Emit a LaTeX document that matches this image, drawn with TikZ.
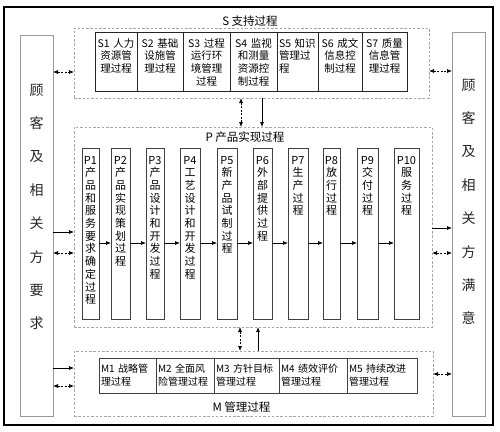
\documentclass[tikz,border=0pt]{standalone}
\usepackage{fontspec}
\setmainfont{Noto Sans CJK SC}
\usetikzlibrary{positioning,arrows.meta}

\begin{document}
\begin{tikzpicture}[x=1pt, y=-1pt, >={Latex[length=5pt,width=4pt]},
    frame/.style={draw=gray!70, dash pattern=on 2.5pt off 1.8pt, line width=0.8pt, inner sep=0pt, outer sep=0pt},
    side/.style={draw=gray!80, line width=0.8pt, inner sep=2pt, outer sep=0pt, text width=29pt, align=center, font=\fontsize{14}{33.4}\selectfont, text=black!85},
    sbox/.style={draw=black!85, line width=0.7pt, inner sep=2pt, outer sep=0pt, align=center, text height=13pt, text depth=42pt, font=\fontsize{10.5}{12.7}\selectfont},
    pbox/.style={draw=black!75, line width=0.7pt, inner xsep=0pt, inner ysep=2pt, outer sep=0pt, align=center, text height=14pt, text depth=153pt, font=\fontsize{11}{12.7}\selectfont},
    mbox/.style={draw=black!75, line width=0.7pt, minimum height=35pt, inner xsep=2pt, inner ysep=2pt, outer sep=0pt, align=left, font=\fontsize{10}{13}\selectfont},
    title/.style={inner sep=1pt, font=\fontsize{11.5}{13}\selectfont},
    link/.style={->, line width=0.7pt},
    dlink/.style={<->, line width=0.7pt, dash pattern=on 2pt off 1.5pt}]

\useasboundingbox (0,0) rectangle (500,431);

% Outer frame
\node[draw, line width=1.2pt, minimum width=489pt, minimum height=418pt, inner sep=0pt] (outer) at (248.5,216) {};

% Customers and interested parties
\node[side, text height=58pt, text depth=319pt] (lbox) at (36.5,225.5) {顾\\客\\及\\相\\关\\方\\要\\求};
\node[side, text height=56pt, text depth=324pt] (rbox) at (468.5,224) {顾\\客\\及\\相\\关\\方\\满\\意};

% Dashed process groups
\node[frame, minimum width=355pt, minimum height=70pt] (sframe) at (251.5,63) {};
\node[frame, minimum width=358pt, minimum height=200pt] (pframe) at (253,227) {};
\node[frame, minimum width=359pt, minimum height=65pt] (mframe) at (253.5,383.5) {};

\node[title, above=0pt of sframe.north, xshift=-1.5pt] (stitle) {S 支持过程};
\node[title, below=4pt of pframe.north, xshift=-8pt] (ptitle) {P 产品实现过程};
\node[title, above=2pt of mframe.south, xshift=-12pt] (mtitle) {M 管理过程};

% Support processes (top)
\node[sbox, text width=38pt] (s1) at (116,61.5) {S1 人力\\资源管\\理过程};
\node[sbox, text width=42pt, right=0pt of s1] (s2) {S2 基础\\设施管\\理过程};
\node[sbox, text width=43pt, right=0pt of s2] (s3) {S3 过程\\运行环\\境管理\\过程};
\node[sbox, text width=43pt, right=0pt of s3] (s4) {S4 监视\\和测量\\资源控\\制过程};
\node[sbox, text width=37pt, align=left, right=0pt of s4] (s5) {S5 知识\\管理过\\程};
\node[sbox, text width=40pt, right=0pt of s5] (s6) {S6 成文\\信息控\\制过程};
\node[sbox, text width=41pt, right=0pt of s6] (s7) {S7 质量\\信息管\\理过程};

% Product realization processes (middle)
\node[pbox, text width=17pt] (p1) at (90.5,233.5) {P1\\产\\品\\和\\服\\务\\要\\求\\确\\定\\过\\程};
\node[pbox, text width=19pt, right=12pt of p1] (p2) {P2\\产\\品\\实\\现\\策\\划\\过\\程};
\node[pbox, text width=18pt, right=16pt of p2] (p3) {P3\\产\\品\\设\\计\\和\\开\\发\\过\\程};
\node[pbox, text width=20pt, right=16pt of p3] (p4) {P4\\工\\艺\\设\\计\\和\\开\\发\\过\\程};
\node[pbox, text width=20pt, right=17pt of p4] (p5) {P5\\新\\产\\品\\试\\制\\过\\程};
\node[pbox, text width=19pt, right=16pt of p5] (p6) {P6\\外\\部\\提\\供\\过\\程};
\node[pbox, text width=20pt, right=16pt of p6] (p7) {P7\\生\\产\\过\\程};
\node[pbox, text width=17pt, right=15pt of p7] (p8) {P8\\放\\行\\过\\程};
\node[pbox, text width=21pt, right=17pt of p8] (p9) {P9\\交\\付\\过\\程};
\node[pbox, text width=25pt, right=16pt of p9] (p10) {P10\\服\\务\\过\\程};

% Management processes (bottom)
\node[mbox, text width=53pt] (m1) at (127.5,375.5) {M1 战略管\\理过程};
\node[mbox, text width=54pt, right=0pt of m1] (m2) {M2 全面风\\险管理过程};
\node[mbox, text width=61pt, right=0pt of m2] (m3) {M3 方针目标\\管理过程};
\node[mbox, text width=64pt, right=0pt of m3] (m4) {M4 绩效评价\\管理过程};
\node[mbox, text width=66pt, right=0pt of m4] (m5) {M5 持续改进\\管理过程};

% Connections along the realization chain
\draw[link] (p1.east |- 0,243) -- (p2.west |- 0,243);
\draw[link] (p2.east |- 0,243) -- (p3.west |- 0,243);
\draw[link] (p3.east |- 0,243) -- (p4.west |- 0,243);
\draw[link] (p4.east |- 0,243) -- (p5.west |- 0,243);
\draw[link] (p5.east |- 0,243) -- (p6.west |- 0,243);
\draw[link] (p6.east |- 0,243) -- (p7.west |- 0,243);
\draw[link] (p7.east |- 0,243) -- (p8.west |- 0,243);
\draw[link] (p8.east |- 0,243) -- (p9.west |- 0,243);
\draw[link] (p9.east |- 0,243) -- (p10.west |- 0,243);

% Left side
\draw[dlink] (lbox.east |- 0,72) -- (sframe.west |- 0,72);
\draw[link] (lbox.east |- 0,232) -- (pframe.west |- 0,232);
\draw[dlink] (lbox.east |- 0,253) -- (pframe.west |- 0,253);
\draw[link] (lbox.east |- 0,368) -- (mframe.west |- 0,368);
\draw[dlink] (lbox.east |- 0,386) -- (mframe.west |- 0,386);

% Right side
\draw[dlink] (sframe.east |- 0,71) -- (rbox.west |- 0,71);
\draw[link] (pframe.east |- 0,228) -- (rbox.west |- 0,228);
\draw[dlink] (pframe.east |- 0,253) -- (rbox.west |- 0,253);
\draw[dlink] (mframe.east |- 0,374) -- (rbox.west |- 0,374);

% Between the groups
\draw[dlink] (sframe.south -| 241,0) -- (pframe.north -| 241,0);
\draw[link] (sframe.south -| 262,0) -- (pframe.north -| 262,0);
\draw[dlink] (pframe.south -| 240,0) -- (mframe.north -| 240,0);
\draw[link] (mframe.north -| 258,0) -- (pframe.south -| 258,0);

\end{tikzpicture}
\end{document}
